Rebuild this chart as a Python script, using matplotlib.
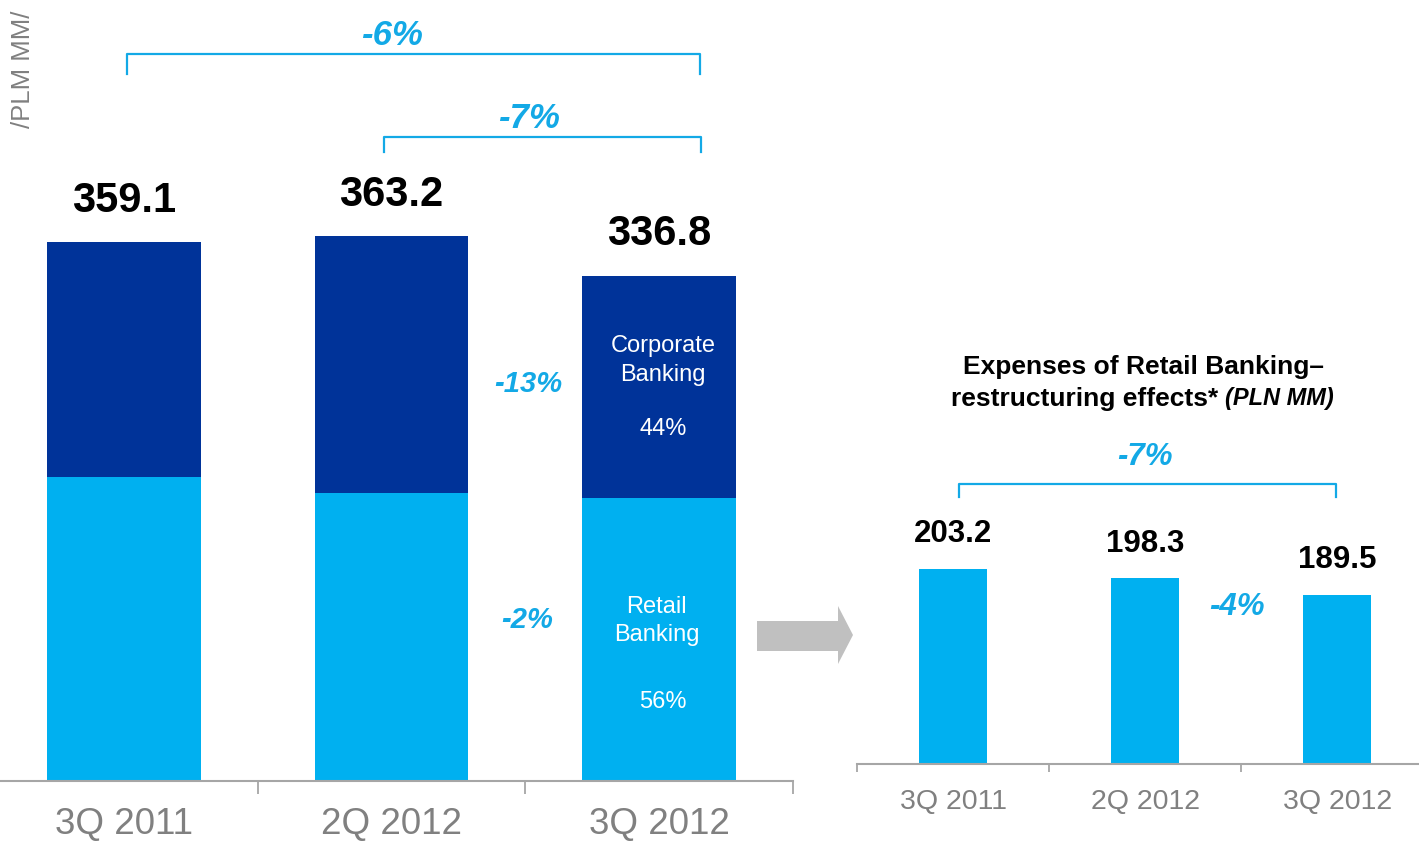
import matplotlib
matplotlib.use("Agg")
import matplotlib.pyplot as plt
from matplotlib.patches import Polygon

plt.rcParams["font.family"] = ["Liberation Sans", "DejaVu Sans"]

# ---- data -------------------------------------------------------------
quarters = ["3Q 2011", "2Q 2012", "3Q 2012"]
totals = [359.1, 363.2, 336.8]
retail = [202.8, 192.0, 188.4]
corporate = [t - r for t, r in zip(totals, retail)]

restructured_retail = [203.2, 198.3, 189.5]

unit_label = "/PLM MM/"
right_title_1 = "Expenses of Retail Banking\u2013"
right_title_2a = "restructuring effects* "
right_title_2b = "(PLN MM)"

# ---- styling ----------------------------------------------------------
DARK_BLUE = "#003399"
LIGHT_BLUE = "#00B0F0"
PCT_BLUE = "#13A9E6"
AXIS_GREY = "#A6A6A6"
TEXT_GREY = "#808080"

W, H = 1419, 843
fig = plt.figure(figsize=(W / 100, H / 100), dpi=100)


def fx(px):
    return px / W


def fy(py):
    return 1 - py / H


def pct(new, old):
    return f"{round((new / old - 1) * 100):d}%"


# ---- left: stacked bars ---------------------------------------------
left_px, right_px, base_px, top_px = -10.0, 793.0, 781.0, 0.0
axL = fig.add_axes([fx(left_px), fy(base_px), (right_px - left_px) / W,
                    (base_px - top_px) / H])
scaleL = 1.5  # pixels per PLN MM
axL.set_xlim(-0.5, 2.5)
axL.set_ylim(0, (base_px - top_px) / scaleL)

x = list(range(len(quarters)))
bw = 0.575
axL.bar(x, retail, width=bw, color=LIGHT_BLUE, linewidth=0)
axL.bar(x, corporate, width=bw, bottom=retail, color=DARK_BLUE, linewidth=0)

for s in ["top", "left", "right"]:
    axL.spines[s].set_visible(False)
axL.spines["bottom"].set_color(AXIS_GREY)
axL.spines["bottom"].set_linewidth(1.5)
axL.set_yticks([])
axL.set_xticks(x)
axL.set_xticklabels(quarters, fontsize=26.5, color=TEXT_GREY)
axL.tick_params(axis="x", which="major", length=0, pad=18.5)
axL.set_xticks([i + 0.5 for i in range(-1, 3)], minor=True)
axL.tick_params(axis="x", which="minor", length=9, width=1.3,
                color=AXIS_GREY, direction="out")

for xi, t in zip(x, totals):
    axL.annotate(f"{t:.1f}", (xi, t), xytext=(0, 30), textcoords="offset points",
                 ha="center", va="center", fontsize=30, fontweight="bold",
                 color="black")

# segment labels inside the last bar
i3 = 2
axL.text(i3 + 0.015, retail[i3] + corporate[i3] * 0.62, "Corporate\nBanking",
         ha="center", va="center", fontsize=17, color="white", linespacing=1.38)
axL.text(i3 + 0.015, retail[i3] + corporate[i3] * 0.31,
         f"{round(corporate[i3] / totals[i3] * 100)}%",
         ha="center", va="center", fontsize=17, color="white")
axL.text(i3 - 0.01, retail[i3] * 0.566, "Retail\nBanking",
         ha="center", va="center", fontsize=17, color="white", linespacing=1.38)
axL.text(i3 + 0.015, retail[i3] * 0.28,
         f"{round(retail[i3] / totals[i3] * 100)}%",
         ha="center", va="center", fontsize=17, color="white")

# change labels between the last two bars
pct_style = dict(ha="center", va="center", fontweight="bold", style="italic",
                 color=PCT_BLUE)
axL.text(1.51, 264.7, pct(corporate[2], corporate[1]), fontsize=21, **pct_style)
axL.text(1.505, 107.3, pct(retail[2], retail[1]), fontsize=21, **pct_style)


def bracket(ax, x0, x1, y, drop, **kw):
    ax.plot([x0, x0, x1, x1], [y - drop, y, y, y - drop], color=PCT_BLUE,
            lw=1.6, solid_joinstyle="round", clip_on=False, **kw)


bracket(axL, 0.013, 2.153, 484.7, 13.3)
axL.text(1.002, 497.3, pct(totals[2], totals[0]), fontsize=25, **pct_style)
bracket(axL, 0.972, 2.157, 429.3, 10.0)
axL.text(1.514, 442.0, pct(totals[2], totals[1]), fontsize=25, **pct_style)

fig.text(fx(23), fy(69), unit_label, rotation=90, ha="center", va="center",
         fontsize=18.5, color=TEXT_GREY)

# ---- arrow between panels --------------------------------------------
arrow_px = [(757, 621), (838, 621), (838, 606), (853, 635), (838, 664),
            (838, 651), (757, 651)]
fig.patches.append(Polygon([(fx(a), fy(b)) for a, b in arrow_px], closed=True,
                           transform=fig.transFigure, facecolor="#C0C0C0",
                           edgecolor="none"))

# ---- right: retail expenses -----------------------------------------
rl_px, rr_px, rb_px, rt_px = 857.4, 1433.5, 764.0, 300.0
axR = fig.add_axes([fx(rl_px), fy(rb_px), (rr_px - rl_px) / W,
                    (rb_px - rt_px) / H])
scaleR = 1.898
y0R = 100.5
axR.set_xlim(-0.5, 2.5)
axR.set_ylim(y0R, y0R + (rb_px - rt_px) / scaleR)
axR.bar(x, restructured_retail, width=0.354, color=LIGHT_BLUE, linewidth=0,
        bottom=0)

for s in ["top", "left", "right"]:
    axR.spines[s].set_visible(False)
axR.spines["bottom"].set_color(AXIS_GREY)
axR.spines["bottom"].set_linewidth(1.5)
axR.set_yticks([])
axR.set_xticks(x)
axR.set_xticklabels(quarters, fontsize=20.5, color=TEXT_GREY)
axR.tick_params(axis="x", which="major", length=0, pad=18)
axR.set_xticks([i + 0.5 for i in range(-1, 3)], minor=True)
axR.tick_params(axis="x", which="minor", length=6, width=1.3,
                color=AXIS_GREY, direction="out")

for xi, v in zip(x, restructured_retail):
    axR.annotate(f"{v:.1f}", (xi, v), xytext=(0, 25), textcoords="offset points",
                 ha="center", va="center", fontsize=22.5, fontweight="bold",
                 color="black")

bracket(axR, 0.03, 1.993, 248.0, 6.8)
axR.text(0.998, 262.2, pct(restructured_retail[2], restructured_retail[0]),
         fontsize=22.5, **pct_style)
axR.text(1.477, 183.2, pct(restructured_retail[2], restructured_retail[1]),
         fontsize=22.5, **pct_style)

# two-line panel title, second line mixes bold and bold italic
fig.text(fx(1143.5), fy(367), right_title_1, ha="center", va="center",
         fontsize=19, fontweight="bold", color="black")
t2a = fig.text(0, fy(399), right_title_2a, ha="left", va="center",
               fontsize=19, fontweight="bold", color="black")
t2b = fig.text(0, fy(399), right_title_2b, ha="left", va="center",
               fontsize=17, fontweight="bold", style="italic", color="black")
fig.canvas.draw()
r = fig.canvas.get_renderer()
wa = t2a.get_window_extent(r).width
wb = t2b.get_window_extent(r).width
start = 1142.5 - (wa + wb) / 2
t2a.set_x(fx(start))
t2b.set_x(fx(start + wa))

fig.savefig("out.png", dpi=100)
